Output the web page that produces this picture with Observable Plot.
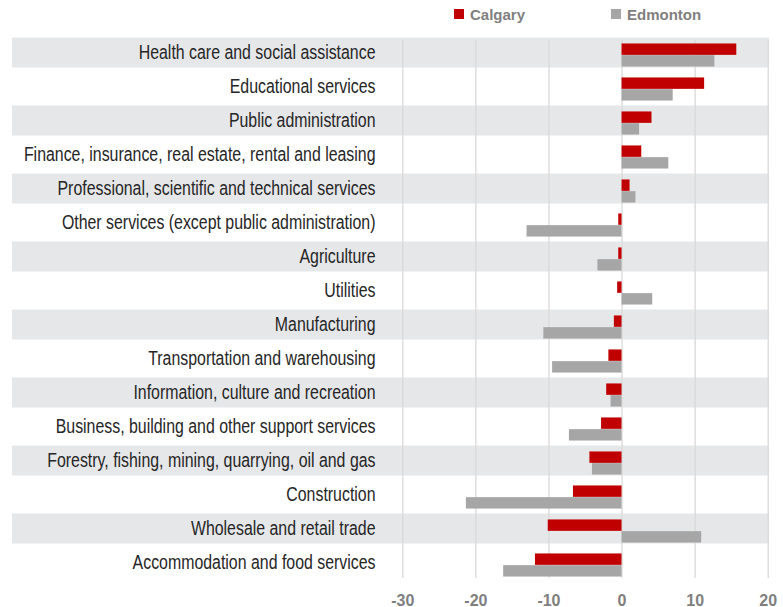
<!DOCTYPE html>
<html><head><meta charset="utf-8">
<script src="https://cdn.jsdelivr.net/npm/d3@7"></script>
<script src="https://cdn.jsdelivr.net/npm/@observablehq/plot@0.6"></script>
<style>
body{margin:0;background:#fff;}
#legend{position:relative;width:783px;height:26px;font-family:"Liberation Sans",Arial,sans-serif;font-weight:bold;font-size:15px;color:#7f7f7f;}
.item{position:absolute;top:1px;height:26px;display:flex;align-items:center;}
.sw{width:10px;height:10px;margin-right:6px;}
#chart svg{display:block;}
#chart g[aria-label="y-axis tick label"]{font-family:"Liberation Sans",Arial,sans-serif;font-size:19.5px;fill:#262626;}
#chart g[aria-label="x-axis tick label"]{font-family:"Liberation Sans",Arial,sans-serif;font-size:16px;font-weight:bold;fill:#7f7f7f;}
</style></head><body>
<div id="legend"></div>
<div id="chart"></div>
<script>
const categories = [
  "Health care and social assistance",
  "Educational services",
  "Public administration",
  "Finance, insurance, real estate, rental and leasing",
  "Professional, scientific and technical services",
  "Other services (except public administration)",
  "Agriculture",
  "Utilities",
  "Manufacturing",
  "Transportation and warehousing",
  "Information, culture and recreation",
  "Business, building and other support services",
  "Forestry, fishing, mining, quarrying, oil and gas",
  "Construction",
  "Wholesale and retail trade",
  "Accommodation and food services"
];
const calgary  = [15.7, 11.3, 4.1, 2.7, 1.1, -0.45, -0.45, -0.6, -1.05, -1.8, -2.1, -2.8, -4.4, -6.65, -10.1, -11.85];
const edmonton = [12.7, 7.0, 2.4, 6.4, 1.9, -13.0, -3.3, 4.2, -10.7, -9.5, -1.5, -7.2, -4.05, -21.3, 10.9, -16.2];
const xTicks = [-30, -20, -10, 0, 10, 20];
const seriesNames = ["Calgary", "Edmonton"];
const seriesColors = ["#c00000", "#a6a6a6"];

// legend
const legend = document.getElementById("legend");
const legendLeft = [454, 611];
seriesNames.forEach((name, k) => {
  const it = document.createElement("div");
  it.className = "item";
  it.style.left = legendLeft[k] + "px";
  const sw = document.createElement("span");
  sw.className = "sw";
  sw.style.background = seriesColors[k];
  const tx = document.createElement("span");
  tx.textContent = name;
  it.appendChild(sw); it.appendChild(tx);
  legend.appendChild(it);
});

const rows = categories.map((c, i) => ({category: c, calgary: calgary[i], edmonton: edmonton[i]}));
const stripes = categories.filter((c, i) => i % 2 === 0);

const chart = Plot.plot({
  width: 783,
  height: 581,
  marginTop: 6.85,
  marginBottom: 25.35,
  marginLeft: 12,
  marginRight: 14,
  x: {domain: [-30, 20], range: [402.3, 767.7]},
  y: {domain: categories, padding: 0, label: null},
  style: {background: "#fff", overflow: "visible"},
  marks: [
    Plot.ruleY(stripes, {y: d => d, stroke: "#e6e7e9", strokeWidth: 30}),
    Plot.ruleX(xTicks, {stroke: "#d9d9d9", strokeWidth: 1.3, insetTop: 7, insetBottom: 3.6}),
    Plot.barX(rows, {y: "category", x: "calgary", fill: seriesColors[0], insetTop: 8.45, insetBottom: 14.15}),
    Plot.barX(rows, {y: "category", x: "edmonton", fill: seriesColors[1], insetTop: 20.15, insetBottom: 2.45}),
    Plot.axisY({tickSize: 0, tickPadding: -363, textAnchor: "end", label: null}),
    Plot.axisX({ticks: xTicks, tickSize: 0, tickPadding: 12, tickFormat: d => String(d), label: null})
  ]
});
document.getElementById("chart").appendChild(chart);

// condense the category labels horizontally (the original uses a condensed face)
chart.querySelectorAll('g[aria-label="y-axis tick label"] text').forEach(t => {
  const w = t.getComputedTextLength();
  t.setAttribute("textLength", (w * 0.815).toFixed(1));
  t.setAttribute("lengthAdjust", "spacingAndGlyphs");
});
</script>
</body></html>
